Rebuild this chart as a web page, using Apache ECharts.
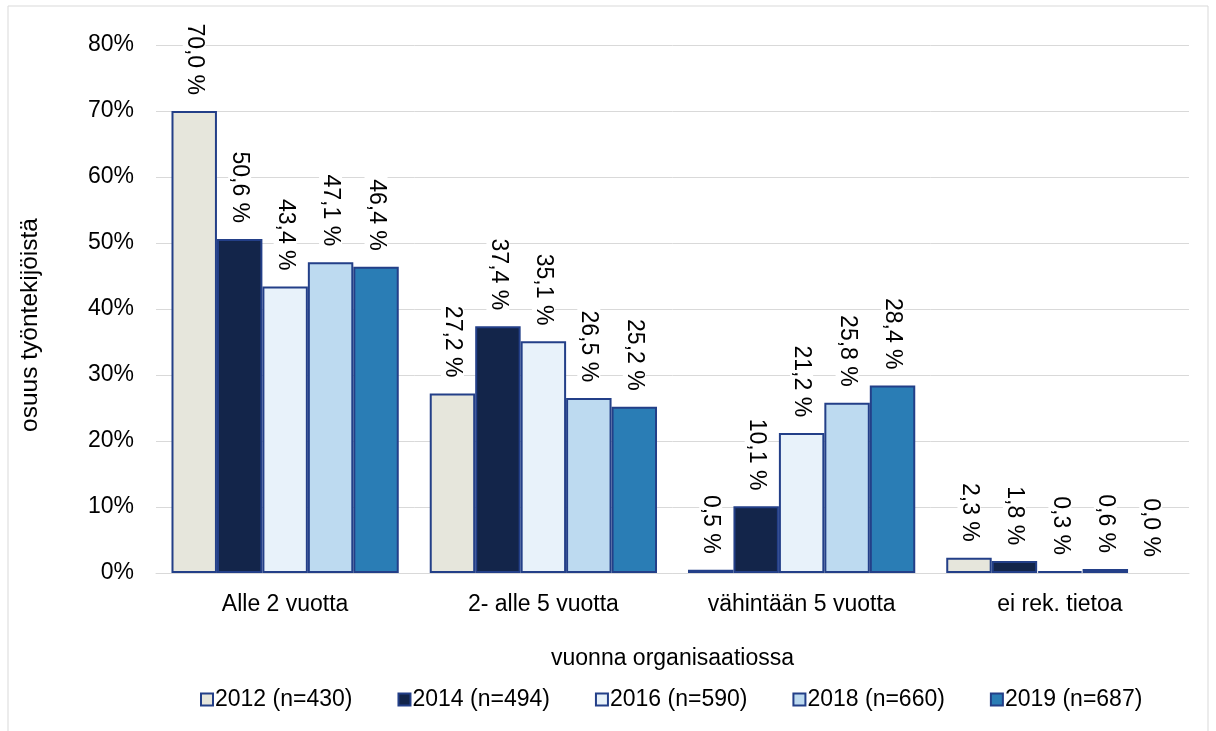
<!DOCTYPE html>
<html>
<head>
<meta charset="utf-8">
<script src="https://cdn.jsdelivr.net/npm/echarts@6/dist/echarts.min.js"></script>
<style>
  html, body { margin: 0; padding: 0; background: #fff; }
  #main { width: 1216px; height: 731px; }
</style>
</head>
<body>
<div id="main"></div>
<script>
// luokat ja sarjat
let categories = ['Alle 2 vuotta', '2- alle 5 vuotta', 'vähintään 5 vuotta', 'ei rek. tietoa'];
let seriesNames = ['2012 (n=430)', '2014 (n=494)', '2016 (n=590)', '2018 (n=660)', '2019 (n=687)'];
let v2012 = [70.0, 27.2, 0.5, 2.3];
let v2014 = [50.6, 37.4, 10.1, 1.8];
let v2016 = [43.4, 35.1, 21.2, 0.3];
let v2018 = [47.1, 26.5, 25.8, 0.6];
let v2019 = [46.4, 25.2, 28.4, 0.0];
let yTicks = [0, 10, 20, 30, 40, 50, 60, 70, 80];

let values = [v2012, v2014, v2016, v2018, v2019];
let fills = ['#E6E6DC', '#13254A', '#E8F2FA', '#BDDAF0', '#2A7DB5'];
let font = '"Liberation Sans", Arial, sans-serif';

let chart = echarts.init(document.getElementById('main'));

let series = [];
for (let i = 0; i < values.length; i++) {
    // nollapylväälle ei reunaviivaa
    let data = values[i].map(function (v) {
        return v === 0 ? { value: v, itemStyle: { borderWidth: 0 } } : v;
    });
    series.push({
        name: seriesNames[i],
        type: 'bar',
        data: data,
        barGap: '0%',
        barCategoryGap: '12%',
        itemStyle: {
            color: fills[i],
            borderColor: '#233F88',
            borderWidth: 2
        },
        label: {
            show: true,
            position: 'top',
            rotate: -90,
            align: 'right',
            verticalAlign: 'middle',
            distance: 12,
            fontSize: 23,
            fontFamily: font,
            color: '#000',
            backgroundColor: '#fff',
            padding: [0, 4, 0, 4],
            formatter: function (p) {
                return p.value.toFixed(1).replace('.', ',') + ' %';
            }
        }
    });
}

let option = {
    backgroundColor: '#fff',
    animation: false,
    textStyle: { fontFamily: font },
    graphic: [{
        type: 'rect',
        shape: { x: 8, y: 6, width: 1200, height: 740 },
        style: { fill: 'none', stroke: '#D9D9D9', lineWidth: 1 },
        silent: true
    }],
    grid: {
        left: 156,
        right: 27,
        top: 45,
        bottom: 158
    },
    legend: {
        bottom: 15,
        left: 195,
        icon: 'rect',
        itemWidth: 12,
        itemHeight: 12,
        itemGap: 45,
        textStyle: { fontSize: 23, color: '#000', fontFamily: font, padding: [0, 0, 0, -3] },
        data: seriesNames
    },
    xAxis: {
        type: 'category',
        data: categories,
        name: 'vuonna organisaatiossa',
        nameLocation: 'middle',
        nameGap: 74,
        nameTextStyle: { fontSize: 23, color: '#000', fontFamily: font },
        axisLine: { show: true, lineStyle: { color: '#D9D9D9', width: 1 } },
        axisTick: { show: false },
        axisLabel: { fontSize: 23, color: '#000', margin: 20, fontFamily: font }
    },
    yAxis: {
        type: 'value',
        min: yTicks[0],
        max: yTicks[yTicks.length - 1],
        interval: 10,
        name: 'osuus työntekijöistä',
        nameLocation: 'middle',
        nameGap: 113,
        nameTextStyle: { fontSize: 24.5, color: '#000', fontFamily: font, padding: [0, 32, 0, 0] },
        axisLine: { show: false },
        axisTick: { show: false },
        axisLabel: { fontSize: 23, color: '#000', margin: 22, fontFamily: font, formatter: '{value}%' },
        splitLine: { lineStyle: { color: '#D9D9D9', width: 1 } }
    },
    series: series
};

chart.setOption(option);
</script>
</body>
</html>
